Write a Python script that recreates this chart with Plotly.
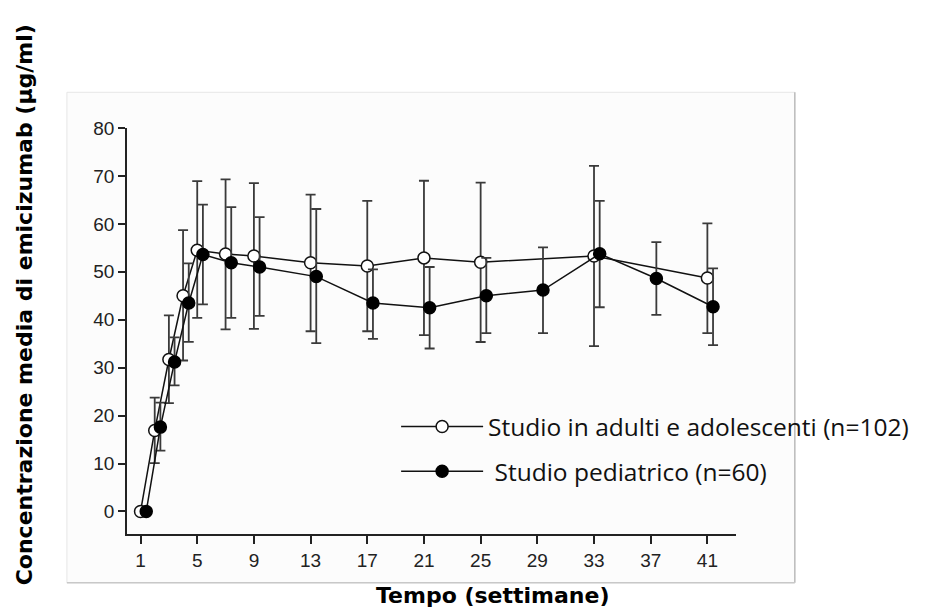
import plotly.graph_objects as go

# ---- data ----
weeks_adult = [1, 2, 3, 4, 5, 7, 9, 13, 17, 21, 25, 33, 41]
mean_adult = [0, 16.9, 31.7, 45.0, 54.5, 53.7, 53.3, 51.9, 51.2, 52.9, 52.0, 53.3, 48.7]
upper_adult = [0, 23.75, 40.9, 58.7, 68.9, 69.3, 68.5, 66.1, 64.8, 69.0, 68.6, 72.1, 60.1]
lower_adult = [0, 10.1, 22.6, 31.5, 40.4, 38.0, 38.1, 37.6, 37.6, 36.8, 35.35, 34.5, 37.2]

weeks_ped = [1, 2, 3, 4, 5, 7, 9, 13, 17, 21, 25, 29, 33, 37, 41]
mean_ped = [0, 17.6, 31.2, 43.5, 53.6, 51.9, 51.0, 49.0, 43.5, 42.5, 45.0, 46.2, 53.75, 48.6, 42.7]
upper_ped = [0, 22.7, 36.3, 51.75, 64.0, 63.5, 61.4, 63.1, 50.5, 51.0, 52.9, 55.1, 64.8, 56.2, 50.7]
lower_ped = [0, 12.7, 26.3, 35.4, 43.2, 40.4, 40.8, 35.1, 36.0, 34.0, 37.2, 37.2, 42.6, 41.0, 34.7]

x_ticks = [1, 5, 9, 13, 17, 21, 25, 29, 33, 37, 41]
y_ticks = [0, 10, 20, 30, 40, 50, 60, 70, 80]

name_adult = "Studio in adulti e adolescenti (n=102)"
name_ped = "\u00a0Studio pediatrico (n=60)"
x_title = "Tempo (settimane)"
y_title = "Concentrazione media di emicizumab (μg/ml)"

PED_OFFSET = 0.4  # horizontal dodge of the paediatric series

err_color = "#3a3a3a"

fig = go.Figure()

fig.add_trace(go.Scatter(
    x=weeks_adult, y=mean_adult, name=name_adult, legendgroup="a",
    mode="lines+markers",
    line=dict(color="#111", width=1.5),
    marker=dict(symbol="circle", size=12, color="white",
                line=dict(color="#111", width=1.5)),
    error_y=dict(type="data", symmetric=False,
                 array=[u - m for u, m in zip(upper_adult, mean_adult)],
                 arrayminus=[m - l for m, l in zip(mean_adult, lower_adult)],
                 color=err_color, thickness=1.8, width=5),
))

fig.add_trace(go.Scatter(
    x=[w + PED_OFFSET for w in weeks_ped], y=mean_ped, name=name_ped, legendgroup="p",
    mode="lines+markers",
    line=dict(color="#111", width=1.5),
    marker=dict(symbol="circle", size=12, color="black",
                line=dict(color="black", width=1.5)),
    error_y=dict(type="data", symmetric=False,
                 array=[u - m for u, m in zip(upper_ped, mean_ped)],
                 arrayminus=[m - l for m, l in zip(mean_ped, lower_ped)],
                 color=err_color, thickness=1.8, width=5),
))

L, R, T, B = 127, 188, 128, 74
W, H = 926, 608
pw, ph = W - L - R, H - T - B


def px_x(p):
    return (p - L) / pw


def px_y(p):
    return (H - B - p) / ph


tick_font = dict(family="Liberation Sans, Arial, sans-serif", size=19, color="#222")
title_font = dict(family="DejaVu Sans, sans-serif", size=22, color="black")

fig.update_layout(
    width=W, height=H,
    margin=dict(l=L, r=R, t=T, b=B, pad=0),
    paper_bgcolor="white",
    plot_bgcolor="rgba(0,0,0,0)",
    showlegend=True,
    legend=dict(
        x=px_x(397), y=px_y(404), xanchor="left", yanchor="top",
        font=dict(family="Open Sans, sans-serif", size=24.5, color="#111"),
        bgcolor="rgba(0,0,0,0)", borderwidth=0,
        tracegroupgap=10, itemwidth=82,
    ),
    xaxis=dict(
        range=[0.044, 43.02], tickmode="array", tickvals=x_ticks,
        ticktext=[str(v) for v in x_ticks],
        showline=True, linecolor="#222", linewidth=1.5,
        ticks="outside", ticklen=8, tickwidth=1.5, tickcolor="#222",
        showgrid=False, zeroline=False, tickfont=tick_font,
    ),
    yaxis=dict(
        range=[-4.7, 80], tickmode="array", tickvals=y_ticks,
        ticktext=[str(v) for v in y_ticks],
        showline=True, linecolor="#222", linewidth=1.5,
        ticks="outside", ticklen=7, tickwidth=1.5, tickcolor="#222",
        showgrid=False, zeroline=False, tickfont=tick_font,
    ),
    shapes=[
        dict(type="rect", xref="paper", yref="paper", layer="below",
             x0=px_x(66.7), x1=px_x(797), y0=px_y(582.7), y1=px_y(92.3),
             fillcolor="#fcfcfc", line=dict(color="#e6e6e6", width=1)),
        dict(type="line", xref="paper", yref="paper", layer="below",
             x0=px_x(797), x1=px_x(797), y0=px_y(582.7), y1=px_y(92.3),
             line=dict(color="#bdbdbd", width=1.5)),
        dict(type="line", xref="paper", yref="paper", layer="below",
             x0=px_x(66.7), x1=px_x(797), y0=px_y(582.7), y1=px_y(582.7),
             line=dict(color="#c8c8c8", width=1.5)),
    ],
    annotations=[
        dict(text=f"<b>{x_title}</b>", xref="paper", yref="paper",
             x=px_x(494), y=px_y(595), xanchor="center", yanchor="middle",
             showarrow=False, font=title_font),
        dict(text=f"<b>{y_title}</b>", xref="paper", yref="paper",
             x=px_x(24), y=px_y(305), xanchor="center", yanchor="middle",
             textangle=-90, showarrow=False, font=title_font),
    ],
)

fig.write_html("out.html", config={"displayModeBar": False},
               post_script="document.body.style.margin='0px';")
